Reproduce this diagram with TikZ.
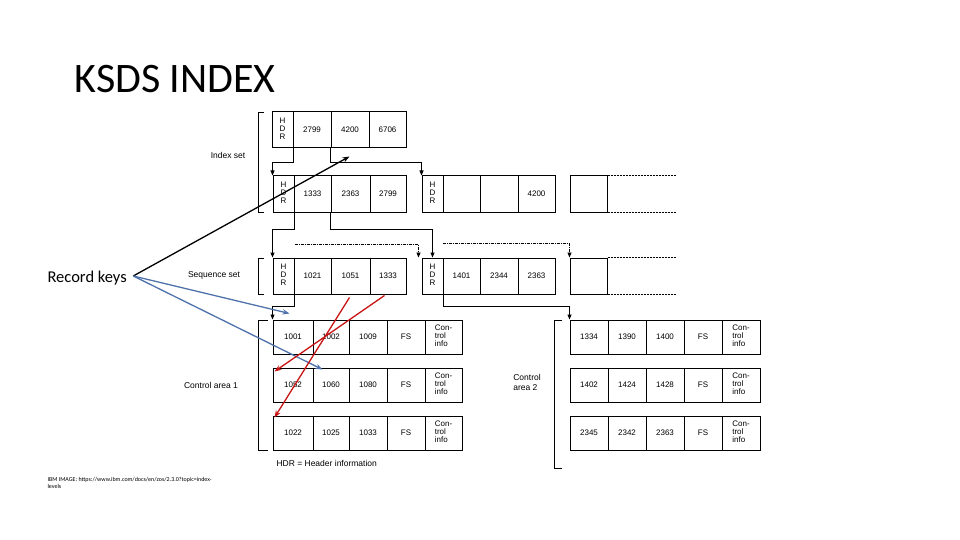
\documentclass[tikz,border=0pt]{standalone}
\usepackage{fontspec}
\setmainfont{Liberation Sans}
\newfontfamily\calfont{Carlito}
\usetikzlibrary{arrows.meta}
\tikzset{
 cell/.style={draw,line width=1pt,inner sep=0pt,font=\fontsize{8}{9}\selectfont,align=center},
 conn/.style={line width=0.7pt,-{Triangle[length=5pt,width=4pt]}},
 dotl/.style={line width=0.7pt,dash pattern=on 2pt off 1pt},
 brk/.style={line width=0.7pt},
 lab/.style={font=\fontsize{8.5}{10}\selectfont,align=left}
}
\newcommand\cellat[6]{\node[cell,minimum width={(#3-#2)*1pt},minimum height={(#5-#4)*1pt}] (#1) at ({(#2+#3)/2},{(#4+#5)/2}) {#6};}
\newcommand\hdr{\begin{tabular}{@{}l@{}}H\\[-1pt]D\\[-1pt]R\end{tabular}}
\newcommand\ci{\begin{tabular}{@{}l@{}}Con-\\[-1pt]trol\\[-1pt]info\end{tabular}}
\begin{document}
\begin{tikzpicture}[x=1pt,y=-1pt]
\useasboundingbox[fill=white] (0,0) rectangle (960,540);
\node[anchor=west,font=\calfont\fontsize{42}{46}\selectfont] (title) at (71,79) {KSDS INDEX};
\node[anchor=west,font=\calfont\fontsize{16.5}{18}\selectfont] (rk) at (44,278) {Record keys};
\node[anchor=north west,font=\calfont\fontsize{6}{7}\selectfont,align=left] (foot) at (44,474) {IBM IMAGE: https://www.ibm.com/docs/en/zos/2.3.0?topic=index-\\levels};
% index top
\cellat{t0}{272}{293}{112}{148}{\hdr}
\cellat{t1}{293}{331}{112}{148}{2799}
\cellat{t2}{331}{369}{112}{148}{4200}
\cellat{t3}{369}{406}{112}{148}{6706}
% level 2
\cellat{a0}{273}{294}{176}{212}{\hdr}
\cellat{a1}{294}{331}{176}{212}{1333}
\cellat{a2}{331}{370}{176}{212}{2363}
\cellat{a3}{370}{406}{176}{212}{2799}
\cellat{b0}{422}{443}{176}{212}{\hdr}
\cellat{b1}{443}{480}{176}{212}{}
\cellat{b2}{480}{518}{176}{212}{}
\cellat{b3}{518}{555}{176}{212}{4200}
\cellat{c0}{570}{607}{176}{212}{}
\draw[dotl] (c0.north east) -- ++(68,0);
\draw[dotl] (c0.south east) -- ++(68,0);
% sequence set
\cellat{s0}{273}{294}{258}{294}{\hdr}
\cellat{s1}{294}{331}{258}{294}{1021}
\cellat{s2}{331}{370}{258}{294}{1051}
\cellat{s3}{370}{406}{258}{294}{1333}
\cellat{q0}{422}{443}{258}{294}{\hdr}
\cellat{q1}{443}{480}{258}{294}{1401}
\cellat{q2}{480}{518}{258}{294}{2344}
\cellat{q3}{518}{555}{258}{294}{2363}
\cellat{r0}{570}{607}{258}{294}{}
\draw[dotl] (r0.north east) -- ++(68,0);
\draw[dotl] (r0.south east) -- ++(68,0);
% brackets and labels
\draw[brk] (264,112) -- (258,112) -- (258,212) -- (264,212);
\node[lab] (lis) at (228,155) {Index set};
\draw[brk] (264,258) -- (258,258) -- (258,294) -- (264,294);
\node[lab] (lss) at (214,275) {Sequence set};
\draw[brk] (268,320) -- (258,320) -- (258,450) -- (268,450);
\node[lab] (lca1) at (211,385) {Control area 1};
\draw[brk] (562,320) -- (554,320) -- (554,468) -- (562,468);
\node[lab] (lca2) at (527,382) {Control\\area 2};
\node[lab,anchor=west] (lhdr) at (273,463) {HDR = Header information};
% control area 1
\foreach \r/\y/\va/\vb/\vc in {1/320/1001/1002/1009, 2/368/1052/1060/1080, 3/416/1022/1025/1033}{
 \cellat{k\r1}{273}{313}{\y}{\y+34}{\va}
 \cellat{k\r2}{313}{349}{\y}{\y+34}{\vb}
 \cellat{k\r3}{349}{387}{\y}{\y+34}{\vc}
 \cellat{k\r4}{387}{425}{\y}{\y+34}{FS}
 \cellat{k\r5}{425}{462}{\y}{\y+34}{\ci}
}
\foreach \r/\y/\va/\vb/\vc in {1/320/1334/1390/1400, 2/368/1402/1424/1428, 3/416/2345/2342/2363}{
 \cellat{m\r1}{570}{608}{\y}{\y+34}{\va}
 \cellat{m\r2}{608}{646}{\y}{\y+34}{\vb}
 \cellat{m\r3}{646}{684}{\y}{\y+34}{\vc}
 \cellat{m\r4}{684}{722}{\y}{\y+34}{FS}
 \cellat{m\r5}{722}{760}{\y}{\y+34}{\ci}
}
% tree connectors
\draw[conn] (t0.south east) -- ++(0,14) -| (a0.north west);
\draw[conn] (t2.south west) -- ++(0,14) -| (b0.north west);
\draw[conn,line width=1pt] (a0.south east) -- ++(0,17) -| (s0.north west);
\draw[conn] (a2.south west) -- ++(0,17) -| ([xshift=11pt]q0.north west);
\draw[conn,dash pattern=on 3pt off 1pt on 1pt off 1pt] (s0.south east) ++(0,-50) -| ([xshift=-3pt]q0.north west);
\draw[conn,dash pattern=on 3pt off 1pt on 1pt off 1pt] (q1.north west) ++(0,-14) -| (r0.north west);
\draw[conn] (s0.south east) -- ++(0,12) -| (k11.north west);
\draw[conn] (q0.south east) -- ++(0,12) -| (m11.north west);
% annotation arrows
\draw[-{Stealth[length=7pt]},line width=1.3pt] (rk.east) ++(3,-2) coordinate (o1) -- ([xshift=19pt,yshift=-8pt]t2.south west);
\draw[-{Stealth[length=7pt]},line width=1.3pt,color={rgb,255:red,79;green,114;blue,172}] (o1) -- ([xshift=17pt,yshift=6pt]k11.north west);
\draw[-{Stealth[length=7pt]},line width=1.3pt,color={rgb,255:red,79;green,114;blue,172}] (o1) -- ([xshift=10pt,yshift=-2pt]k22.north west);
\draw[-{Stealth[length=7pt]},line width=1.3pt,color={rgb,255:red,200;green,20;blue,20}] ([xshift=19pt,yshift=-3pt]s2.south west) -- ([xshift=2pt,yshift=-2pt]k31.north west);
\draw[-{Stealth[length=7pt]},line width=1.3pt,color={rgb,255:red,200;green,20;blue,20}] ([xshift=15pt,yshift=-1pt]s3.south west) -- ([xshift=2pt,yshift=-4pt]k21.north west);
\end{tikzpicture}
\end{document}
